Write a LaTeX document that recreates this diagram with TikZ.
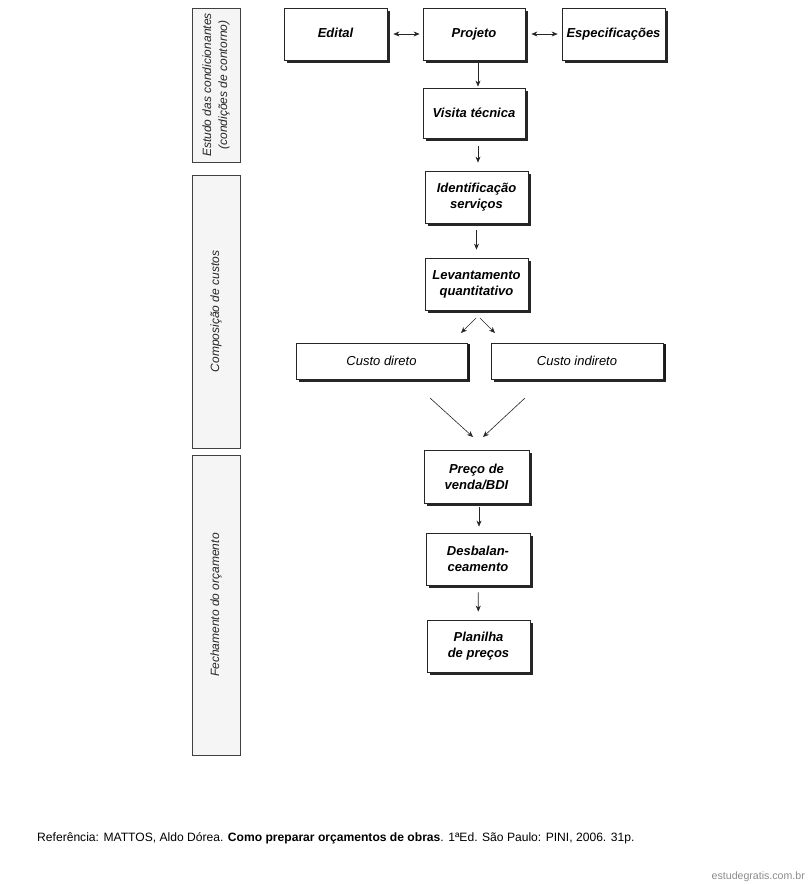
\documentclass[tikz,border=0pt]{standalone}
\usepackage{fontspec}
\setmainfont{Liberation Sans}
\usetikzlibrary{shadows,arrows.meta}
\begin{document}
\begin{tikzpicture}[x=1pt,y=-1pt,
  box/.style={draw=black!85, line width=0.8pt, fill=white, inner sep=0pt,
    minimum width=103pt, minimum height=52pt, align=center,
    font=\fontsize{13}{16}\selectfont\bfseries\itshape,
    drop shadow={shadow xshift=3pt, shadow yshift=-3pt, fill=black!85, opacity=1}},
  widebox/.style={box, minimum width=171pt, minimum height=36pt,
    drop shadow={shadow xshift=3pt, shadow yshift=-1pt, fill=black!90, opacity=1}},
  phase/.style={draw=black!75, line width=0.7pt, fill=black!4, inner sep=0pt,
    minimum width=48pt},
  phasetext/.style={rotate=90, align=center, text=black!85,
    font=\fontsize{12}{16}\selectfont\itshape},
  arr/.style={-{Stealth[length=6pt,width=5pt]}, line width=0.6pt, black!85},
  darr/.style={{Stealth[length=6pt,width=5pt]}-{Stealth[length=6pt,width=5pt]}, line width=0.6pt, black!85}
]
\useasboundingbox (0,0) rectangle (808,885);
\fill[white] (0,0) rectangle (808,885);

% phase columns
\node[phase, minimum height=154pt] (p1) at (216,85) {};
\node[phasetext] (t1) at (p1.center) {Estudo das condicionantes\\(condições de contorno)};
\node[phase, minimum height=273pt] (p2) at (216,311.5) {};
\node[phasetext] (t2) at (p2.center) {Composição de custos};
\node[phase, minimum height=300pt] (p3) at (216,605) {};
\node[phasetext] (t3) at (p3.center) {Fechamento do orçamento};

% main boxes
\node[box] (edital) at (335.5,34) {\raisebox{2.5pt}{Edital}};
\node[box, minimum width=102pt] (projeto) at (474,34) {\raisebox{2.5pt}{Projeto}};
\node[box] (espec) at (613.5,34) {\raisebox{2.5pt}{Especificações}};
\node[box, minimum width=102pt, minimum height=50pt] (visita) at (474,113) {Visita técnica};
\node[box] (ident) at (476.5,197) {Identificação\\serviços};
\node[box] (levant) at (476.5,284) {Levantamento\\quantitativo};
\node[widebox] (direto) at (381.5,361) {\mdseries\itshape Custo direto};
\node[widebox, minimum width=172pt] (indireto) at (577,361) {\mdseries\itshape Custo indireto};
\node[box, minimum width=105pt, minimum height=53pt] (preco) at (476.5,476.5) {Preço de\\venda/BDI};
\node[box, minimum width=104pt] (desbal) at (478,559) {Desbalan-\\ceamento};
\node[box] (planilha) at (478.5,646) {Planilha\\de preços};

% connectors
\draw[darr, shorten <=6pt, shorten >=3pt] (edital) -- (projeto);
\draw[darr, shorten <=6pt, shorten >=4pt] (projeto) -- (espec);
\draw[arr, shorten <=3pt, shorten >=1pt] ([xshift=4pt]projeto.south) -- ([xshift=4pt]visita.north);
\draw[arr, shorten <=8pt, shorten >=8pt] ([xshift=4pt]visita.south) -- ([xshift=1.5pt]ident.north);
\draw[arr, shorten <=7pt, shorten >=8pt] (ident) -- (levant);

\coordinate (s1) at (476,318);
\coordinate (e1) at (461,333);
\coordinate (s2) at (480,318);
\coordinate (e2) at (495,333);
\draw[arr] (s1) -- (e1);
\draw[arr] (s2) -- (e2);

\coordinate (c1) at (430,398);
\coordinate (d1) at (473,437);
\coordinate (c2) at (525,398);
\coordinate (d2) at (483,437);
\draw[arr] (c1) -- (d1);
\draw[arr] (c2) -- (d2);

\draw[arr, shorten <=4pt, shorten >=6pt] ([xshift=2.5pt]preco.south) -- ([xshift=1pt]desbal.north);
\draw[arr, shorten <=7pt, shorten >=8pt] (desbal) -- (planilha);

% footer
\node[anchor=west, inner sep=0pt, font=\fontsize{12.1}{14}\selectfont] (ref) at (37,838)
  {Referência: MATTOS, Aldo Dórea. \textbf{Como preparar orçamentos de obras}. 1ªEd. São Paulo: PINI, 2006. 31p.};
\node[anchor=east, inner sep=0pt, text=black!45, font=\fontsize{10.6}{12}\selectfont] (wm) at (805,877) {estudegratis.com.br};
\end{tikzpicture}
\end{document}
